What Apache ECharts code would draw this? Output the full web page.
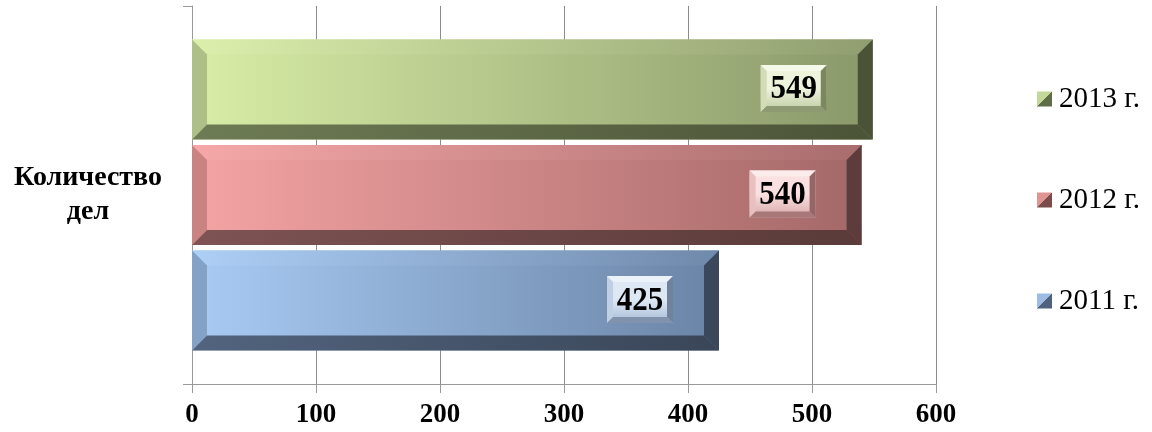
<!DOCTYPE html>
<html>
<head>
<meta charset="utf-8">
<script src="https://cdn.jsdelivr.net/npm/echarts@6/dist/echarts.min.js"></script>
<style>
html,body{margin:0;padding:0;background:#fff;}
#chart{width:1152px;height:432px;}
</style>
</head>
<body>
<div id="chart"></div>
<script>
// ---- data ----
const categories = ['Количество\nдел'];
const years = ['2013 г.', '2012 г.', '2011 г.'];
const values2013 = [549];
const values2012 = [540];
const values2011 = [425];
const xTicks = [0, 100, 200, 300, 400, 500, 600];

const seriesValues = [values2013, values2012, values2011];

// palette: face (left, right), bevels, label box
const palettes = [
  { faceL:'#d8eda6', faceR:'#8a986a', top:'#dcefac', topR:'#909e70', left:'#aebf87',
    bot:'#6e7c55', botR:'#4c5438', right:'#4a5237',
    lbFace:'#eef4dc', lbFace2:'#bccaa0', lbTop:'#f5f9ea', lbLeft:'#d2ddb8', lbBot:'#8d9a72', lbRight:'#7b875f',
    iconA:'#c3d99a', iconB:'#5f6e46' },
  { faceL:'#f4a3a3', faceR:'#a46868', top:'#f6a8a8', topR:'#a96d6d', left:'#c98383',
    bot:'#7e5353', botR:'#5a3a3a', right:'#5c3c3c',
    lbFace:'#fae0e0', lbFace2:'#d8a8a8', lbTop:'#fcecec', lbLeft:'#e8c0c0', lbBot:'#a87878', lbRight:'#966666',
    iconA:'#e09595', iconB:'#7a4c4c' },
  { faceL:'#a9cbf4', faceR:'#6a84a6', top:'#aecff6', topR:'#6f89ab', left:'#84a2c6',
    bot:'#52647e', botR:'#3a4658', right:'#3b475a',
    lbFace:'#dde8f4', lbFace2:'#a8bcd6', lbTop:'#ecf2f9', lbLeft:'#c0d0e4', lbBot:'#8092ac', lbRight:'#70829c',
    iconA:'#9cbce4', iconB:'#4e6280' }
];

const SERIF = "'Liberation Serif','Times New Roman',serif";

function hGrad(a, b) {
  return new echarts.graphic.LinearGradient(0, 0, 1, 0, [{offset:0,color:a},{offset:1,color:b}]);
}
function vGrad(stops) {
  return new echarts.graphic.LinearGradient(0, 0, 0, 1, stops);
}

function makeRender(slot) {
  const p = palettes[slot];
  return function (params, api) {
    const cat = api.value(0);
    const val = api.value(1);
    const start = api.coord([0, cat]);
    const end = api.coord([val, cat]);
    const band = api.size([0, 1])[1];
    const barH = band * 0.2647;
    const gap = band * 0.0146;
    const total = 3 * barH + 2 * gap;
    const y0 = end[1] - total / 2 + slot * (barH + gap);
    const y1 = y0 + barH;
    const x0 = start[0], x1 = end[0];
    const b = 15;
    const children = [];
    children.push({ type:'rect', shape:{x:x0, y:y0, width:x1-x0, height:barH},
      style:{ fill: hGrad(p.faceL, p.faceR) } });
    children.push({ type:'polygon', shape:{points:[[x0,y0],[x1,y0],[x1-b,y0+b],[x0+b,y0+b]]},
      style:{ fill: hGrad(p.top, p.topR) } });
    children.push({ type:'polygon', shape:{points:[[x0,y0],[x0+b,y0+b],[x0+b,y1-b],[x0,y1]]},
      style:{ fill: p.left } });
    children.push({ type:'polygon', shape:{points:[[x0,y1],[x0+b,y1-b],[x1-b,y1-b],[x1,y1]]},
      style:{ fill: hGrad(p.bot, p.botR) } });
    children.push({ type:'polygon', shape:{points:[[x1,y0],[x1,y1],[x1-b,y1-b],[x1-b,y0+b]]},
      style:{ fill: p.right } });
    // label box
    const bw = 66, bh = 47, bb = 6;
    const bx1 = x1 - 46, bx0 = bx1 - bw;
    const cy = (y0 + y1) / 2 - 1;
    const by0 = cy - bh / 2, by1 = cy + bh / 2;
    children.push({ type:'rect', shape:{x:bx0, y:by0, width:bw, height:bh},
      style:{ fill: vGrad([{offset:0,color:p.lbFace},{offset:0.5,color:p.lbFace},{offset:1,color:p.lbFace2}]) } });
    children.push({ type:'polygon', shape:{points:[[bx0,by0],[bx1,by0],[bx1-bb,by0+bb],[bx0+bb,by0+bb]]},
      style:{ fill: p.lbTop } });
    children.push({ type:'polygon', shape:{points:[[bx0,by0],[bx0+bb,by0+bb],[bx0+bb,by1-bb],[bx0,by1]]},
      style:{ fill: p.lbLeft } });
    children.push({ type:'polygon', shape:{points:[[bx0,by1],[bx0+bb,by1-bb],[bx1-bb,by1-bb],[bx1,by1]]},
      style:{ fill: p.lbBot } });
    children.push({ type:'polygon', shape:{points:[[bx1,by0],[bx1,by1],[bx1-bb,by1-bb],[bx1-bb,by0+bb]]},
      style:{ fill: p.lbRight } });
    children.push({ type:'text', x:(bx0+bx1)/2, y:cy+1, scaleY:1.12,
      style:{ x:0, y:0, text:String(val),
      fontSize:31, fontWeight:'bold', fontFamily:SERIF, fill:'#000',
      align:'center', verticalAlign:'middle' } });
    return { type:'group', children };
  };
}

function iconGrad(p) {
  return new echarts.graphic.LinearGradient(0, 0, 1, 1, [
    {offset:0,color:p.iconA},{offset:0.5,color:p.iconA},
    {offset:0.5,color:p.iconB},{offset:1,color:p.iconB}]);
}

const series = years.map((name, i) => ({
  type: 'custom',
  name: name,
  renderItem: makeRender(i),
  encode: { x: 1, y: 0 },
  itemStyle: { color: iconGrad(palettes[i]) },
  data: categories.map((c, k) => [k, seriesValues[i][k]])
}));

const chart = echarts.init(document.getElementById('chart'), null, {renderer:'canvas'});
chart.setOption({
  animation: false,
  backgroundColor: '#fff',
  grid: { left: 192, right: 216, top: 6, bottom: 48, containLabel: false },
  xAxis: {
    type: 'value', min: xTicks[0], max: xTicks[xTicks.length-1], interval: 100,
    axisLine: { show: true, lineStyle: { color: '#9a9a9a', width: 1 } },
    axisTick: { show: true, length: 9, lineStyle: { color: '#9a9a9a' } },
    splitLine: { show: true, lineStyle: { color: '#8c8c8c', width: 1 } },
    axisLabel: { fontFamily: SERIF, fontSize: 27, fontWeight: 'bold', color: '#000', margin: 18 }
  },
  yAxis: {
    type: 'category', data: categories,
    axisLine: { show: true, lineStyle: { color: '#9a9a9a', width: 1 } },
    axisTick: { show: true, length: 9, lineStyle: { color: '#9a9a9a' } },
    splitLine: { show: false },
    axisLabel: { fontFamily: SERIF, fontSize: 28, fontWeight: 'bold', color: '#000',
      align: 'center', margin: 104, lineHeight: 34 }
  },
  legend: {
    orient: 'vertical', left: 1037, top: 84, padding: 0,
    itemWidth: 15, itemHeight: 15, itemGap: 71,
    icon: 'rect',
    data: years.map((y, i) => ({ name: y, icon: 'rect', itemStyle: { color: iconGrad(palettes[i]) } })),
    textStyle: { fontFamily: SERIF, fontSize: 29, color: '#000', lineHeight: 30, padding: [0,0,0,2] }
  },
  series: series
});
</script>
</body>
</html>
